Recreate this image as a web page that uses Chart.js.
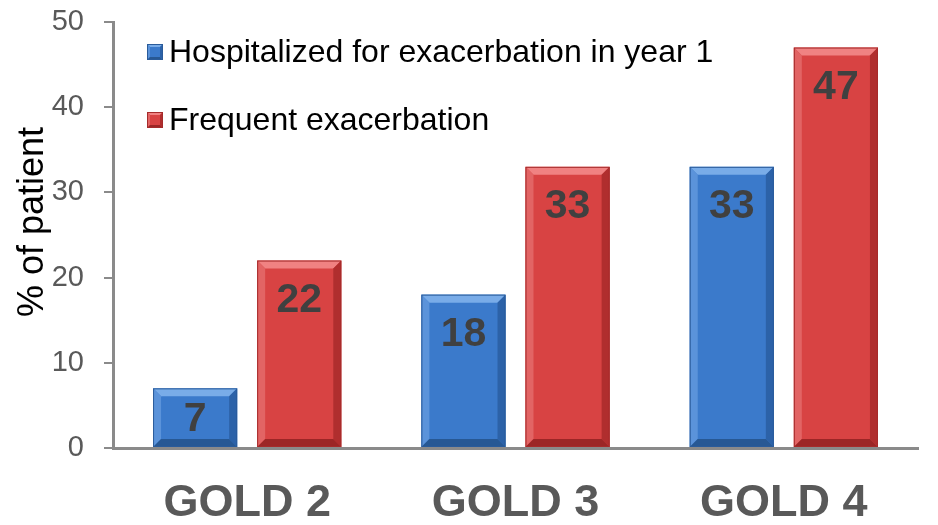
<!DOCTYPE html>
<html>
<head>
<meta charset="utf-8">
<script src="https://cdn.jsdelivr.net/npm/chart.js@4.4.1/dist/chart.umd.min.js"></script>
<style>
  html, body { margin: 0; padding: 0; background: #ffffff; }
  #wrap { width: 938px; height: 525px; position: relative; }
</style>
</head>
<body>
<div id="wrap"><canvas id="c" width="938" height="525"></canvas></div>
<script>
// Share of patients by GOLD stage
const categories = ['GOLD 2', 'GOLD 3', 'GOLD 4'];
const hospitalized = [7, 18, 33];
const frequent = [22, 33, 47];
const seriesNames = ['Hospitalized for exacerbation in year 1', 'Frequent exacerbation'];
const yTicks = [0, 10, 20, 30, 40, 50];
const yTitle = '% of patient';

// Bevel palettes: face, top, left, right, bottom, edge
const palettes = [
  { face: '#3b7acb', top: '#79ace8', left: '#5b93da', right: '#2c62a8', bottom: '#275894', edge: '#2a5b9a' },
  { face: '#d84343', top: '#f08282', left: '#e26464', right: '#b02e2e', bottom: '#9c2626', edge: '#a52b2b' }
];

function bevelRect(ctx, l, t, r, b, p, bev) {
  ctx.save();
  ctx.fillStyle = p.face;
  ctx.fillRect(l, t, r - l, b - t);
  const bv = Math.min(bev, (r - l) / 2, (b - t) / 2);
  const poly = (pts, col) => {
    ctx.beginPath();
    ctx.moveTo(pts[0][0], pts[0][1]);
    for (let i = 1; i < pts.length; i++) ctx.lineTo(pts[i][0], pts[i][1]);
    ctx.closePath();
    ctx.fillStyle = col;
    ctx.fill();
  };
  poly([[l, t], [r, t], [r - bv, t + bv], [l + bv, t + bv]], p.top);
  poly([[l, t], [l + bv, t + bv], [l + bv, b - bv], [l, b]], p.left);
  poly([[r, t], [r, b], [r - bv, b - bv], [r - bv, t + bv]], p.right);
  poly([[l, b], [l + bv, b - bv], [r - bv, b - bv], [r, b]], p.bottom);
  ctx.strokeStyle = p.edge;
  ctx.lineWidth = 1;
  ctx.strokeRect(l + 0.5, t + 0.5, r - l - 1, b - t - 1);
  ctx.restore();
}

const bevelBars = {
  id: 'bevelBars',
  afterDatasetsDraw(chart) {
    const ctx = chart.ctx;
    chart.data.datasets.forEach((ds, di) => {
      const meta = chart.getDatasetMeta(di);
      meta.data.forEach((bar, i) => {
        const l = bar.x - bar.width / 2, r = bar.x + bar.width / 2;
        const t = bar.y, b = bar.base;
        bevelRect(ctx, l, t, r, b, palettes[di], 8);
        // value label
        ctx.save();
        ctx.font = 'bold 41px "Liberation Sans", Arial, sans-serif';
        ctx.fillStyle = '#404040';
        ctx.textAlign = 'center';
        ctx.textBaseline = 'middle';
        const ly = Math.min(t + 40, (t + b) / 2 + 2);
        ctx.fillText(String(ds.data[i]), bar.x, ly);
        ctx.restore();
      });
    });
  }
};

const legendAndTitle = {
  id: 'legendAndTitle',
  afterDraw(chart) {
    const ctx = chart.ctx;
    const rows = [52, 120];
    chart.data.datasets.forEach((ds, di) => {
      const y = rows[di];
      bevelRect(ctx, 147, y - 8, 163, y + 8, palettes[di], 3);
      ctx.save();
      ctx.font = '32px "Liberation Sans", Arial, sans-serif';
      ctx.fillStyle = '#000000';
      ctx.textBaseline = 'middle';
      ctx.textAlign = 'left';
      ctx.fillText(ds.label, 169, y + 1);
      ctx.restore();
    });
    ctx.save();
    ctx.translate(33, 222);
    ctx.rotate(-Math.PI / 2);
    ctx.font = '36px "Liberation Sans", Arial, sans-serif';
    ctx.fillStyle = '#000000';
    ctx.textAlign = 'center';
    ctx.textBaseline = 'middle';
    ctx.fillText(yTitle, 0, 0);
    ctx.restore();
  }
};

new Chart(document.getElementById('c'), {
  type: 'bar',
  data: {
    labels: categories,
    datasets: [
      { label: seriesNames[0], data: hospitalized, backgroundColor: 'rgba(0,0,0,0)' },
      { label: seriesNames[1], data: frequent, backgroundColor: 'rgba(0,0,0,0)' }
    ]
  },
  options: {
    responsive: false,
    animation: false,
    devicePixelRatio: 1,
    layout: { padding: { top: 22, right: 20, left: 0, bottom: 0 } },
    categoryPercentage: 0.776,
    barPercentage: 0.808,
    plugins: { legend: { display: false }, tooltip: { enabled: false } },
    scales: {
      x: {
        grid: { display: false, drawTicks: false },
        border: { color: '#8a8a8a', width: 3 },
        ticks: {
          color: '#595959',
          font: { family: '"Liberation Sans", Arial, sans-serif', size: 45, weight: 'bold' },
          padding: 29
        },
        afterFit(scale) { scale.height = 77; }
      },
      y: {
        min: 0, max: 50,
        afterBuildTicks(scale) { scale.ticks = yTicks.map(v => ({ value: v })); },
        grid: { display: true, drawOnChartArea: false, drawTicks: true, tickLength: 9, color: '#8a8a8a', lineWidth: 2 },
        border: { color: '#8a8a8a', width: 3 },
        ticks: {
          color: '#595959',
          font: { family: '"Liberation Sans", Arial, sans-serif', size: 29 },
          padding: 20
        },
        afterFit(scale) {
          scale.width = 113;
          scale.paddingTop = 0;
          scale.paddingBottom = 0;
        }
      }
    }
  },
  plugins: [bevelBars, legendAndTitle]
});
</script>
</body>
</html>
